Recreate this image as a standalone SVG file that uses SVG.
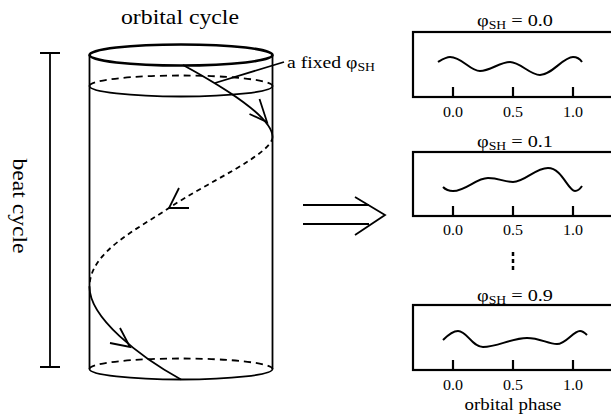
<svg xmlns="http://www.w3.org/2000/svg" width="611" height="415" viewBox="0 0 611 415">
<style>
text{font-family:"Liberation Serif","Times New Roman",serif;fill:#000}
.ln{fill:none;stroke:#000;stroke-width:1.8;stroke-linecap:butt;stroke-linejoin:miter}
.thick{stroke-width:2.6}
.dash{stroke-dasharray:7,5}
.hdash{stroke-dasharray:5,4}
.box{fill:none;stroke:#000;stroke-width:2.2}
.wave{fill:none;stroke:#000;stroke-width:2}
.tick{stroke:#000;stroke-width:2.2}
.tl{font-size:14.5px;text-anchor:middle}
.ttl{font-size:17px}
.sub{font-size:11.5px}
</style>
<defs>
<path id="tk" d="M0,0 V-10" class="tick"/>
</defs>

<text x="180" y="24" font-size="21.5" text-anchor="middle" textLength="118" lengthAdjust="spacingAndGlyphs">orbital cycle</text>
<text transform="translate(13,206) rotate(90)" font-size="21.5" text-anchor="middle" textLength="95" lengthAdjust="spacingAndGlyphs">beat cycle</text>

<g id="beat-bar">
<path class="ln" d="M50,53 V367 M40,53 H60 M40,367 H60"/>
</g>

<g id="cylinder">
<ellipse class="ln thick" cx="181" cy="55" rx="91.5" ry="10.5"/>
<path class="ln" d="M89.5,55 V369 M272.5,55 V369"/>
<path class="ln dash" d="M89.5,86 A91.5,10.5 0 0 1 272.5,86"/>
<path class="ln" d="M89.5,86 A91.5,10.5 0 0 0 272.5,86"/>
<path class="ln dash" d="M89.5,369 A91.5,10.5 0 0 1 272.5,369"/>
<path class="ln" d="M89.5,369 A91.5,10.5 0 0 0 272.5,369"/>
</g>

<g id="connectors">
<path class="ln" d="M183,65 C225,88 272.5,117 272.5,137"/>
<path class="ln hdash" d="M272.5,137 C272.5,154 206,183 169,208 C136,230 89.5,252 89.5,287"/>
<path class="ln" d="M89.5,287 C89.5,318 140,357 181,379.5"/>
<path class="ln" d="M259.5,99 L267,122 L249.5,114"/>
<path class="ln" d="M179,188 L169,208 L189,208"/>
<path class="ln" d="M120,328 L130,347 L110,343"/>
<path class="ln" stroke-width="1.2" d="M284,62 L215,83"/>
<path class="ln" d="M303,205 H369 M303,224 H369 M355,197 L385,215 L355,235"/>
</g>

<g id="label-fixed">
<text x="287" y="68" font-size="16.5" textLength="88" lengthAdjust="spacingAndGlyphs">a fixed φ<tspan class="sub" dy="3">SH</tspan></text>
</g>

<g id="panel-1">
<text x="477" y="26" class="ttl" textLength="76" lengthAdjust="spacingAndGlyphs">φ<tspan class="sub" dy="3">SH</tspan><tspan dy="-3"> = 0.0</tspan></text>
<rect class="box" x="413" y="32" width="215" height="65"/>
<use href="#tk" x="453" y="97"/><use href="#tk" x="513" y="97"/><use href="#tk" x="573" y="97"/>
<path class="wave" d="M438,62 C443,59 446,57 450,57 C462,57 470,71 480,71 C490,71 500,62 510,62 C520,62 530,75 540,75 C552,75 563,57 573,57 C577,57 580,59 582,62"/>
<text class="tl" x="453" y="117" textLength="20" lengthAdjust="spacingAndGlyphs">0.0</text>
<text class="tl" x="513" y="117" textLength="20" lengthAdjust="spacingAndGlyphs">0.5</text>
<text class="tl" x="573" y="117" textLength="20" lengthAdjust="spacingAndGlyphs">1.0</text>
</g>

<g id="panel-2">
<text x="477" y="147" class="ttl" textLength="76" lengthAdjust="spacingAndGlyphs">φ<tspan class="sub" dy="3">SH</tspan><tspan dy="-3"> = 0.1</tspan></text>
<rect class="box" x="413" y="152" width="215" height="64"/>
<use href="#tk" x="453" y="216"/><use href="#tk" x="513" y="216"/><use href="#tk" x="573" y="216"/>
<path class="wave" d="M443,187 C446,190 449,191 453,191 C466,191 476,178 488,178 C500,178 503,182 513,182 C525,182 535,168 548,168 C562,168 568,191 575,191 C578,191 580,189 582,186"/>
<text class="tl" x="453" y="235" textLength="20" lengthAdjust="spacingAndGlyphs">0.0</text>
<text class="tl" x="513" y="235" textLength="20" lengthAdjust="spacingAndGlyphs">0.5</text>
<text class="tl" x="573" y="235" textLength="20" lengthAdjust="spacingAndGlyphs">1.0</text>
</g>

<g id="ellipsis">
<path d="M513,252 V270" stroke="#000" stroke-width="2.5" stroke-dasharray="4,3"/>
</g>

<g id="panel-3">
<text x="477" y="301" class="ttl" textLength="76" lengthAdjust="spacingAndGlyphs">φ<tspan class="sub" dy="3">SH</tspan><tspan dy="-3"> = 0.9</tspan></text>
<rect class="box" x="413" y="305" width="215" height="65"/>
<use href="#tk" x="453" y="370"/><use href="#tk" x="513" y="370"/><use href="#tk" x="573" y="370"/>
<path class="wave" d="M443,340 C448,335 453,331 458,331 C467,331 472,347 483,347 C497,347 512,338 527,338 C540,338 548,344 557,344 C566,344 573,331 580,331 C583,331 585,333 587,335"/>
<text class="tl" x="453" y="390" textLength="20" lengthAdjust="spacingAndGlyphs">0.0</text>
<text class="tl" x="513" y="390" textLength="20" lengthAdjust="spacingAndGlyphs">0.5</text>
<text class="tl" x="573" y="390" textLength="20" lengthAdjust="spacingAndGlyphs">1.0</text>
<text x="513" y="410" font-size="16" text-anchor="middle" textLength="97" lengthAdjust="spacingAndGlyphs">orbital  phase</text>
</g>
</svg>
